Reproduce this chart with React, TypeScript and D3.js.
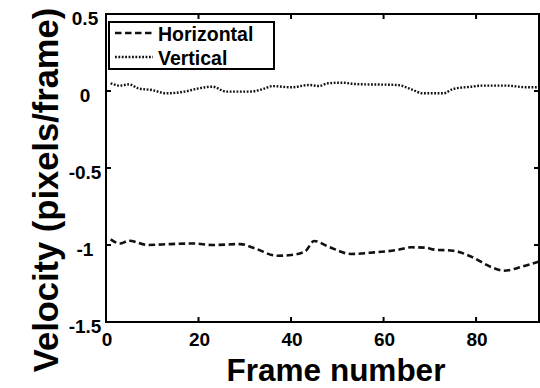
import React, { useEffect, useRef } from 'react';
import * as d3 from 'd3';

// Horizontal velocity (dashed)
const hFrames = [1, 3, 5, 9, 14, 19, 23, 29, 32, 37, 40, 43, 45, 48, 53, 58, 63, 66, 69, 71, 75, 79, 83, 86, 90, 93.5];
const hValues = [-0.963, -0.99, -0.972, -1.0, -0.994, -0.99, -1.0, -0.994, -1.02, -1.07, -1.065, -1.043, -0.974, -1.01, -1.058, -1.048, -1.032, -1.015, -1.017, -1.03, -1.037, -1.076, -1.14, -1.167, -1.14, -1.108];

// Vertical velocity (dotted)
const vFrames = [1, 3, 5, 7, 10, 13, 17, 20, 23, 26, 31, 34, 36, 40, 44, 46, 48, 51, 54, 63, 66, 68.5, 73, 75, 79, 81.5, 86.5, 91, 93.5];
const vValues = [0.05, 0.035, 0.043, 0.017, 0.006, -0.015, -0.004, 0.017, 0.028, -0.004, -0.004, 0.013, 0.032, 0.024, 0.039, 0.032, 0.05, 0.054, 0.045, 0.039, 0.011, -0.015, -0.015, 0.013, 0.028, 0.035, 0.035, 0.024, 0.024];

const xTicks = [0, 20, 40, 60, 80];
const yTicks = [0.5, 0, -0.5, -1, -1.5];
const yTickLabels = ['0.5', '0', '-0.5', '-1', '-1.5'];
const seriesNames = ['Horizontal', 'Vertical'];

const FONT = '"Liberation Sans", Arial, Helvetica, sans-serif';

export default function App() {
  const svgRef = useRef<SVGSVGElement>(null);

  useEffect(() => {
    if (!svgRef.current) return;
    const svg = d3.select(svgRef.current);
    svg.selectAll('*').remove();

    const width = 540;
    const height = 388;
    const left = 106, right = 539, top = 14, bottom = 322;

    svg.attr('width', width).attr('height', height);
    svg.append('rect').attr('width', width).attr('height', height).attr('fill', '#fff');

    const x = d3.scaleLinear().domain([0, 93.6]).range([left, right]);
    const y = d3.scaleLinear().domain([-1.5, 0.5]).range([bottom, top]);

    // clip for the lines
    svg.append('defs').append('clipPath').attr('id', 'plot-clip')
      .append('rect').attr('x', left).attr('y', top).attr('width', right - left).attr('height', bottom - top);

    const line = d3.line<[number, number]>()
      .x(d => x(d[0]))
      .y(d => y(d[1]))
      .curve(d3.curveMonotoneX);

    const hData = hFrames.map((f, i) => [f, hValues[i]] as [number, number]);
    const vData = vFrames.map((f, i) => [f, vValues[i]] as [number, number]);

    const plot = svg.append('g').attr('clip-path', 'url(#plot-clip)');
    plot.append('path')
      .attr('d', line(hData)!)
      .attr('fill', 'none')
      .attr('stroke', '#111')
      .attr('stroke-width', 2.6)
      .attr('stroke-dasharray', '6.5,3.5');
    plot.append('path')
      .attr('d', line(vData)!)
      .attr('fill', 'none')
      .attr('stroke', '#111')
      .attr('stroke-width', 2.4)
      .attr('stroke-dasharray', '1.8,1.6');

    // axes box
    svg.append('rect')
      .attr('x', left).attr('y', top)
      .attr('width', right - left).attr('height', bottom - top)
      .attr('fill', 'none').attr('stroke', '#000').attr('stroke-width', 2);

    // inward ticks
    const tickLen = 5;
    const ticks = svg.append('g').attr('stroke', '#000').attr('stroke-width', 2);
    xTicks.forEach(t => {
      ticks.append('line').attr('x1', x(t)).attr('x2', x(t)).attr('y1', bottom).attr('y2', bottom - tickLen);
      ticks.append('line').attr('x1', x(t)).attr('x2', x(t)).attr('y1', top).attr('y2', top + tickLen);
    });
    yTicks.forEach(t => {
      ticks.append('line').attr('x1', left).attr('x2', left + tickLen).attr('y1', y(t)).attr('y2', y(t));
      ticks.append('line').attr('x1', right).attr('x2', right - tickLen).attr('y1', y(t)).attr('y2', y(t));
    });

    // tick labels
    svg.append('g').selectAll('text').data(xTicks).enter().append('text')
      .attr('x', d => x(d) + 1)
      .attr('y', 346)
      .attr('text-anchor', 'middle')
      .attr('font-family', FONT)
      .attr('font-weight', 'bold')
      .attr('font-size', 19)
      .attr('fill', '#000')
      .text(d => String(d));

    svg.append('g').selectAll('text').data(yTicks).enter().append('text')
      .attr('x', 85)
      .attr('y', d => y(d) + 11)
      .attr('text-anchor', 'middle')
      .attr('font-family', FONT)
      .attr('font-weight', 'bold')
      .attr('font-size', 19)
      .attr('fill', '#000')
      .text((d, i) => yTickLabels[i]);

    // axis titles
    svg.append('text')
      .attr('x', 336).attr('y', 381)
      .attr('text-anchor', 'middle')
      .attr('font-family', FONT)
      .attr('font-weight', 'bold')
      .attr('font-size', 31.5)
      .attr('fill', '#000')
      .text('Frame number');

    svg.append('text')
      .attr('transform', 'translate(58, 190) rotate(-90)')
      .attr('text-anchor', 'middle')
      .attr('font-family', FONT)
      .attr('font-weight', 'bold')
      .attr('font-size', 34.5)
      .attr('fill', '#000')
      .text('Velocity (pixels/frame)');

    // legend
    const legend = svg.append('g');
    legend.append('rect')
      .attr('x', 109).attr('y', 22).attr('width', 165).attr('height', 47)
      .attr('fill', '#fff').attr('stroke', '#000').attr('stroke-width', 2);
    const dashes = ['6.5,3.5', '1.8,1.6'];
    seriesNames.forEach((name, i) => {
      const ly = 33 + i * 24;
      legend.append('line')
        .attr('x1', 115).attr('x2', 153).attr('y1', ly).attr('y2', ly)
        .attr('stroke', '#111').attr('stroke-width', i === 0 ? 2.6 : 2.4)
        .attr('stroke-dasharray', dashes[i]);
      legend.append('text')
        .attr('x', 158).attr('y', ly + 8)
        .attr('font-family', FONT)
        .attr('font-weight', 'bold')
        .attr('font-size', 19.5)
        .attr('fill', '#000')
        .text(name);
    });
  }, []);

  return (
    <div style={{ position: 'absolute', left: 0, top: 0 }}>
      <svg ref={svgRef}></svg>
    </div>
  );
}
